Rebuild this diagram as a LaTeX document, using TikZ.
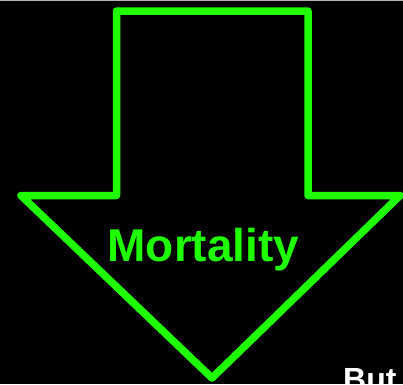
\documentclass[tikz,border=0pt]{standalone}
\usepackage{fontspec}
\setmainfont{Liberation Sans}
\definecolor{arrowgreen}{RGB}{32,255,0}
\begin{document}
\begin{tikzpicture}[x=1pt,y=-1pt,
  arrowline/.style={draw=arrowgreen,line width=7.5pt,line join=round},
  labeltext/.style={text=arrowgreen,font=\fontsize{46}{46}\selectfont\bfseries,inner sep=0pt,anchor=base},
  buttext/.style={text=white,font=\fontsize{32}{32}\selectfont\bfseries,inner sep=0pt,anchor=base west}]
\useasboundingbox (0,0) rectangle (403,384);
\fill[black] (0,0) rectangle (403,384);
\clip (0,0) rectangle (403,384);
\draw[gray!60,line width=1.2pt] (0,0.6) -- (403,0.6);
\coordinate (tl) at (116.5,11);
\coordinate (tr) at (308,11);
\coordinate (sr) at (308,195.5);
\coordinate (rp) at (400,195.5);
\coordinate (tip) at (212,378);
\coordinate (lp) at (21,195.5);
\coordinate (sl) at (116.5,195.5);
\draw[arrowline] (tl) -- (tr) -- (sr) -- (rp) -- (tip) -- (lp) -- (sl) -- cycle;
\node[labeltext] (mort) at (203.5,261) {Mortality};
\node[buttext] (but) at (343,390) {But};
\end{tikzpicture}
\end{document}
